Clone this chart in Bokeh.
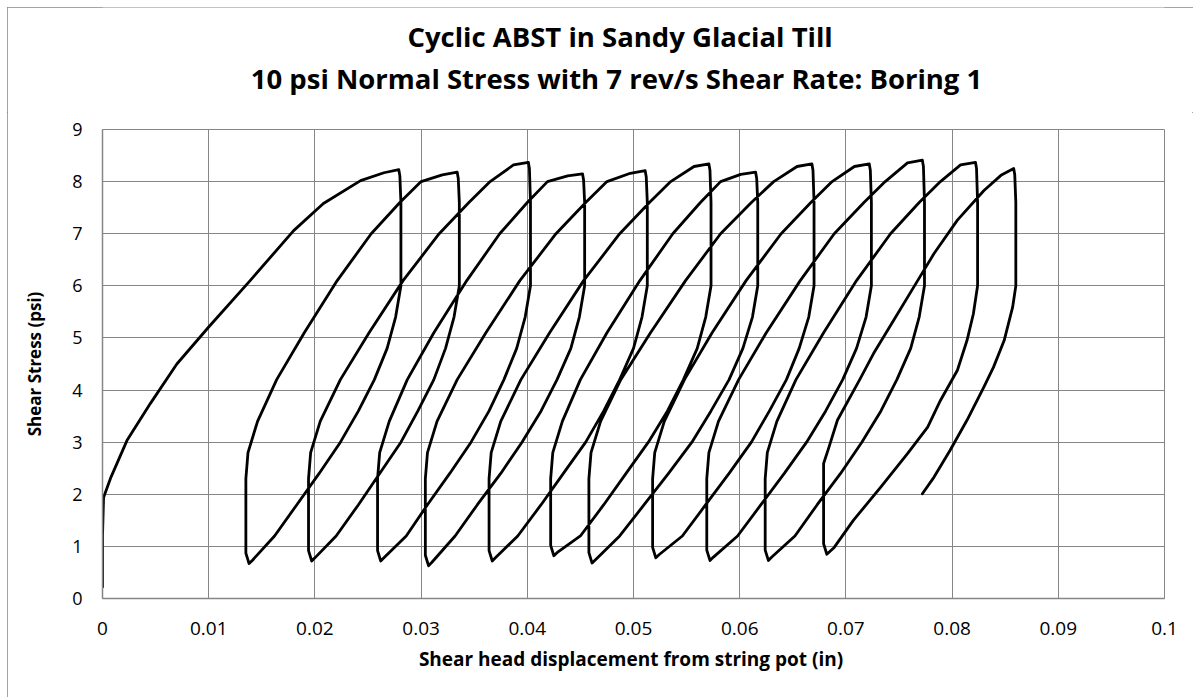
from bokeh.plotting import figure
from bokeh.layouts import column
from bokeh.models import Range1d, FixedTicker, CustomJSTickFormatter
from bokeh.core.properties import value
from bokeh.embed import file_html
from bokeh.resources import INLINE

# ---------------- data ----------------
title_lines = ["Cyclic ABST in Sandy Glacial Till",
               "10 psi Normal Stress with 7 rev/s Shear Rate:  Boring 1"]
x_label = "Shear head displacement  from string pot (in)"
y_label = "Shear Stress (psi)"
x_ticks = [0.0, 0.01, 0.02, 0.03, 0.04, 0.05, 0.06, 0.07, 0.08, 0.09, 0.1]
y_ticks = [0, 1, 2, 3, 4, 5, 6, 7, 8, 9]

# initial loading
initial_x = [0.0, 0.0, 0.0001, 0.0008, 0.0023, 0.0045, 0.0070, 0.0100, 0.0139, 0.0180, 0.0208, 0.0243, 0.0265, 0.0279]
initial_y = [0.22, 1.20, 1.94, 2.33, 3.03, 3.74, 4.50, 5.21, 6.10, 7.06, 7.58, 8.02, 8.17, 8.23]

# each cycle: unloading from a peak down to a trough, then reloading to the next peak
cycle1_x = [0.0280, 0.0281, 0.0281, 0.0281, 0.0276, 0.0268, 0.0256, 0.0241, 0.0224, 0.0204, 0.0183, 0.0162, 0.0141, 0.0138,
            0.0135, 0.0135, 0.0135, 0.0137, 0.0146, 0.0164, 0.0190, 0.0221, 0.0253, 0.0280, 0.0300, 0.0320, 0.0334]
cycle1_y = [8.11, 7.6, 6.8, 6.0, 5.4, 4.8, 4.2, 3.6, 3.0, 2.4, 1.8, 1.2, 0.73, 0.67,
            0.87, 1.5, 2.3, 2.8, 3.4, 4.2, 5.1, 6.1, 7.0, 7.6, 8.0, 8.13, 8.18]

cycle2_x = [0.0335, 0.0336, 0.0336, 0.0336, 0.0331, 0.0323, 0.0312, 0.0297, 0.0281, 0.0261, 0.0241, 0.0220, 0.0200, 0.0197,
            0.0194, 0.0194, 0.0194, 0.0196, 0.0205, 0.0224, 0.0251, 0.0283, 0.0317, 0.0345, 0.0365, 0.0387, 0.0401]
cycle2_y = [8.06, 7.6, 6.8, 6.0, 5.4, 4.8, 4.2, 3.6, 3.0, 2.4, 1.8, 1.2, 0.78, 0.72,
            0.92, 1.5, 2.3, 2.8, 3.4, 4.2, 5.1, 6.1, 7.0, 7.6, 8.0, 8.32, 8.37]

cycle3_x = [0.0402, 0.0403, 0.0403, 0.0403, 0.0398, 0.0390, 0.0378, 0.0364, 0.0347, 0.0327, 0.0306, 0.0286, 0.0265, 0.0262,
            0.0259, 0.0259, 0.0259, 0.0261, 0.0270, 0.0287, 0.0312, 0.0343, 0.0374, 0.0400, 0.0419, 0.0438, 0.0452]
cycle3_y = [8.25, 7.6, 6.8, 6.0, 5.4, 4.8, 4.2, 3.6, 3.0, 2.4, 1.8, 1.2, 0.78, 0.72,
            0.92, 1.5, 2.3, 2.8, 3.4, 4.2, 5.1, 6.1, 7.0, 7.6, 8.0, 8.11, 8.15]

cycle4_x = [0.0453, 0.0454, 0.0454, 0.0454, 0.0449, 0.0441, 0.0428, 0.0413, 0.0395, 0.0375, 0.0353, 0.0332, 0.0310, 0.0307,
            0.0304, 0.0304, 0.0304, 0.0306, 0.0315, 0.0334, 0.0361, 0.0393, 0.0427, 0.0455, 0.0475, 0.0497, 0.0511]
cycle4_y = [8.03, 7.6, 6.8, 6.0, 5.4, 4.8, 4.2, 3.6, 3.0, 2.4, 1.8, 1.2, 0.69, 0.63,
            0.83, 1.5, 2.3, 2.8, 3.4, 4.2, 5.1, 6.1, 7.0, 7.6, 8.0, 8.16, 8.21]

cycle5_x = [0.0512, 0.0513, 0.0513, 0.0513, 0.0508, 0.0500, 0.0487, 0.0472, 0.0455, 0.0434, 0.0413, 0.0391, 0.0370, 0.0367,
            0.0364, 0.0364, 0.0364, 0.0366, 0.0375, 0.0394, 0.0421, 0.0453, 0.0487, 0.0515, 0.0535, 0.0557, 0.0571]
cycle5_y = [8.09, 7.6, 6.8, 6.0, 5.4, 4.8, 4.2, 3.6, 3.0, 2.4, 1.8, 1.2, 0.78, 0.72,
            0.92, 1.5, 2.3, 2.8, 3.4, 4.2, 5.1, 6.1, 7.0, 7.6, 8.0, 8.29, 8.34]

cycle6_x = [0.0572, 0.0573, 0.0573, 0.0573, 0.0568, 0.0560, 0.0547, 0.0532, 0.0514, 0.0493, 0.0472, 0.0450, 0.0428, 0.0425,
            0.0422, 0.0422, 0.0422, 0.0424, 0.0433, 0.0450, 0.0475, 0.0506, 0.0537, 0.0563, 0.0582, 0.0601, 0.0615]
cycle6_y = [8.22, 7.6, 6.8, 6.0, 5.4, 4.8, 4.2, 3.6, 3.0, 2.4, 1.8, 1.2, 0.88, 0.82,
            1.02, 1.5, 2.3, 2.8, 3.4, 4.2, 5.1, 6.1, 7.0, 7.6, 8.0, 8.14, 8.18]

cycle7_x = [0.0616, 0.0617, 0.0617, 0.0617, 0.0612, 0.0603, 0.0590, 0.0573, 0.0555, 0.0533, 0.0510, 0.0487, 0.0464, 0.0461,
            0.0458, 0.0458, 0.0458, 0.0460, 0.0469, 0.0488, 0.0516, 0.0549, 0.0582, 0.0611, 0.0632, 0.0654, 0.0668]
cycle7_y = [8.06, 7.6, 6.8, 6.0, 5.4, 4.8, 4.2, 3.6, 3.0, 2.4, 1.8, 1.2, 0.74, 0.68,
            0.88, 1.5, 2.3, 2.8, 3.4, 4.2, 5.1, 6.1, 7.0, 7.6, 8.0, 8.29, 8.34]

cycle8_x = [0.0669, 0.0670, 0.0670, 0.0670, 0.0665, 0.0656, 0.0644, 0.0628, 0.0611, 0.0590, 0.0568, 0.0546, 0.0524, 0.0521,
            0.0518, 0.0518, 0.0518, 0.0520, 0.0529, 0.0548, 0.0574, 0.0606, 0.0639, 0.0667, 0.0687, 0.0708, 0.0722]
cycle8_y = [8.22, 7.6, 6.8, 6.0, 5.4, 4.8, 4.2, 3.6, 3.0, 2.4, 1.8, 1.2, 0.84, 0.78,
            0.98, 1.5, 2.3, 2.8, 3.4, 4.2, 5.1, 6.1, 7.0, 7.6, 8.0, 8.29, 8.34]

cycle9_x = [0.0723, 0.0724, 0.0724, 0.0724, 0.0719, 0.0710, 0.0697, 0.0681, 0.0663, 0.0642, 0.0620, 0.0598, 0.0575, 0.0572,
            0.0569, 0.0569, 0.0569, 0.0571, 0.0580, 0.0599, 0.0625, 0.0657, 0.0689, 0.0717, 0.0737, 0.0758, 0.0772]
cycle9_y = [8.22, 7.6, 6.8, 6.0, 5.4, 4.8, 4.2, 3.6, 3.0, 2.4, 1.8, 1.2, 0.79, 0.73,
            0.93, 1.5, 2.3, 2.8, 3.4, 4.2, 5.1, 6.1, 7.0, 7.6, 8.0, 8.36, 8.41]

cycle10_x = [0.0773, 0.0774, 0.0774, 0.0774, 0.0769, 0.0761, 0.0748, 0.0733, 0.0715, 0.0695, 0.0673, 0.0652, 0.0630, 0.0627,
             0.0624, 0.0624, 0.0624, 0.0626, 0.0635, 0.0653, 0.0679, 0.0710, 0.0742, 0.0769, 0.0789, 0.0808, 0.0822]
cycle10_y = [8.29, 7.6, 6.8, 6.0, 5.4, 4.8, 4.2, 3.6, 3.0, 2.4, 1.8, 1.2, 0.79, 0.73,
             0.93, 1.5, 2.3, 2.8, 3.4, 4.2, 5.1, 6.1, 7.0, 7.6, 8.0, 8.32, 8.37]

cycle11_x = [0.0823, 0.0824, 0.0824, 0.0824, 0.0820, 0.0814, 0.0805, 0.0789, 0.0777, 0.0758, 0.0733, 0.0707, 0.0689, 0.0682,
             0.0679, 0.0679, 0.0684, 0.0692, 0.0713, 0.0726, 0.0745, 0.0764, 0.0783, 0.0805, 0.0830, 0.0846, 0.0858]
cycle11_y = [8.25, 7.6, 6.8, 6.0, 5.46, 4.95, 4.38, 3.8, 3.29, 2.78, 2.14, 1.5, 0.98, 0.85,
             1.05, 2.59, 2.90, 3.42, 4.2, 4.70, 5.34, 5.98, 6.62, 7.26, 7.83, 8.12, 8.25]

# final unloading (test stopped part-way)
final_x = [0.0859, 0.0860, 0.0860, 0.0860, 0.0857, 0.0849, 0.0839, 0.0830, 0.0814, 0.0798, 0.0783, 0.0772]
final_y = [8.13, 7.6, 6.8, 6.0, 5.59, 4.95, 4.44, 4.06, 3.42, 2.84, 2.33, 2.01]

displacement = (initial_x + cycle1_x + cycle2_x + cycle3_x + cycle4_x + cycle5_x + cycle6_x
                + cycle7_x + cycle8_x + cycle9_x + cycle10_x + cycle11_x + final_x)
shear_stress = (initial_y + cycle1_y + cycle2_y + cycle3_y + cycle4_y + cycle5_y + cycle6_y
                + cycle7_y + cycle8_y + cycle9_y + cycle10_y + cycle11_y + final_y)

# ---------------- layout constants ----------------
GRID = "#868686"
FONT = "Open Sans"
W = 1186
HEAD_H = 105

# ---------------- title strip (pixel coordinates) ----------------
head = figure(width=W, height=HEAD_H, x_range=Range1d(0, W), y_range=Range1d(0, HEAD_H),
              output_backend="svg", toolbar_location=None,
              x_axis_location=None, y_axis_location=None, min_border=0)
head.grid.visible = False
head.outline_line_color = None
head.background_fill_color = "white"
head.border_fill_color = "white"
head.text(x=[578, 578], y=[76, 34], text=title_lines,
          text_align="center", text_baseline="middle",
          text_font=value(FONT), text_font_size=value("27.5px"),
          text_font_style="bold", text_color="black")

# ---------------- main chart ----------------
p = figure(width=W, height=585,
           x_range=Range1d(0, 0.1), y_range=Range1d(0, 9),
           output_backend="svg", toolbar_location=None,
           min_border_left=95, min_border_right=29, min_border_top=17, min_border_bottom=99)
p.background_fill_color = "white"
p.border_fill_color = "white"
p.outline_line_color = GRID
p.outline_line_width = 1

p.line(displacement, shear_stress, line_color="black", line_width=2.8,
       line_join="round", line_cap="round")

p.xaxis.ticker = FixedTicker(ticks=x_ticks)
p.yaxis.ticker = FixedTicker(ticks=y_ticks)
p.xaxis.formatter = CustomJSTickFormatter(
    code="return tick.toFixed(2).replace(/0+$/, '').replace(/\\.$/, '');")

for ax in (p.xaxis[0], p.yaxis[0]):
    ax.axis_line_color = GRID
    ax.axis_line_width = 1.5
    ax.major_tick_line_color = None
    ax.minor_tick_line_color = None
    ax.major_tick_out = 0
    ax.major_tick_in = 0
    ax.major_label_text_font = FONT
    ax.major_label_text_color = "black"
    ax.axis_label_text_font = FONT
    ax.axis_label_text_font_style = "bold"
    ax.axis_label_text_color = "black"

p.xaxis.major_label_text_font_size = "19px"
p.yaxis.major_label_text_font_size = "18px"
p.xaxis.axis_label_text_font_size = "19px"
p.yaxis.axis_label_text_font_size = "17px"

p.xaxis.axis_label = x_label
p.yaxis.axis_label = y_label
p.xaxis.major_label_standoff = 23
p.xaxis.axis_label_standoff = 8
p.yaxis.major_label_standoff = 20
p.yaxis.axis_label_standoff = 23

p.xgrid.grid_line_color = GRID
p.ygrid.grid_line_color = GRID
p.xgrid.grid_line_width = 1
p.ygrid.grid_line_width = 1

layout = column(head, p, spacing=0,
                styles={"margin-left": "7px", "margin-top": "7px",
                        "outline": "1px solid #868686", "outline-offset": "-1px"})

open("out.html", "w").write(file_html(layout, INLINE))
